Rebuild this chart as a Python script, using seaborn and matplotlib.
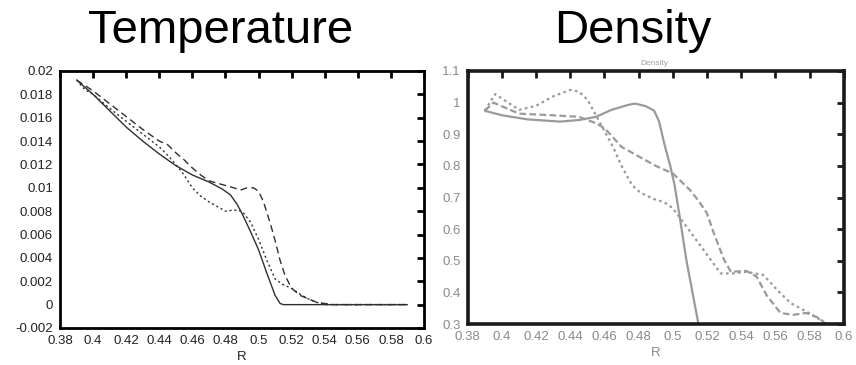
import numpy as np
import pandas as pd
import seaborn as sns
from matplotlib import pyplot as plt


# --- temperature panel (left) ---
T_SOLID_R = [0.390, 0.400, 0.410, 0.420, 0.430, 0.440, 0.450, 0.460, 0.470, 0.478,
             0.483, 0.487, 0.490, 0.495, 0.500, 0.505, 0.510, 0.513, 0.515, 0.590]
T_SOLID = [0.01923, 0.0180, 0.0166, 0.0152, 0.0140, 0.0129, 0.0119, 0.0111, 0.0105, 0.0099,
           0.0094, 0.0086, 0.0078, 0.0063, 0.0047, 0.0027, 0.0008, 0.0001, 0.0, 0.0]

T_DASH_R = [0.390, 0.400, 0.410, 0.420, 0.430, 0.440, 0.445, 0.450, 0.455, 0.460,
            0.465, 0.470, 0.475, 0.480, 0.485, 0.489, 0.493, 0.497, 0.500, 0.503,
            0.507, 0.510, 0.513, 0.516, 0.520, 0.525, 0.530, 0.535, 0.540, 0.545, 0.590]
T_DASH = [0.01923, 0.0183, 0.0172, 0.0161, 0.0150, 0.0140, 0.0137, 0.0130, 0.0124, 0.0117,
          0.0111, 0.0106, 0.0104, 0.0102, 0.0100, 0.0098, 0.0100, 0.0100, 0.0097, 0.0088,
          0.0070, 0.0055, 0.0038, 0.0025, 0.0014, 0.0008, 0.0005, 0.0002, 0.0001, 0.0, 0.0]

T_DOT_R = [0.392, 0.395, 0.400, 0.410, 0.420, 0.430, 0.440, 0.445, 0.450, 0.455,
           0.460, 0.465, 0.470, 0.475, 0.480, 0.485, 0.490, 0.495, 0.500, 0.505,
           0.510, 0.515, 0.520, 0.525, 0.530, 0.535, 0.540, 0.590]
T_DOT = [0.0189, 0.0184, 0.0180, 0.0168, 0.0157, 0.0146, 0.0135, 0.0128, 0.0120, 0.0111,
         0.0100, 0.0093, 0.0088, 0.0084, 0.0080, 0.0081, 0.0080, 0.0071, 0.0056, 0.0038,
         0.0022, 0.0017, 0.0014, 0.0009, 0.0005, 0.0002, 0.0, 0.0]

# --- density panel (right) ---
D_SOLID_R = [0.390, 0.400, 0.415, 0.434, 0.445, 0.455, 0.464, 0.474, 0.478, 0.484,
             0.489, 0.492, 0.495, 0.4985, 0.501, 0.504, 0.508, 0.5115, 0.515]
D_SOLID = [0.974, 0.960, 0.947, 0.940, 0.945, 0.955, 0.977, 0.993, 0.997, 0.989,
           0.975, 0.940, 0.870, 0.800, 0.740, 0.640, 0.500, 0.400, 0.300]

D_DASH_R = [0.390, 0.395, 0.410, 0.430, 0.445, 0.455, 0.460, 0.465, 0.470, 0.480,
            0.490, 0.500, 0.510, 0.515, 0.520, 0.524, 0.530, 0.534, 0.543, 0.549,
            0.555, 0.563, 0.5705, 0.578, 0.586, 0.589]
D_DASH = [0.975, 1.000, 0.965, 0.960, 0.955, 0.935, 0.919, 0.890, 0.860, 0.830,
          0.800, 0.776, 0.724, 0.690, 0.650, 0.587, 0.503, 0.465, 0.468, 0.450,
          0.390, 0.335, 0.329, 0.335, 0.318, 0.302]

D_DOT_R = [0.390, 0.396, 0.410, 0.420, 0.430, 0.440, 0.445, 0.450, 0.455, 0.460,
           0.465, 0.470, 0.476, 0.481, 0.489, 0.495, 0.500, 0.508, 0.518, 0.528,
           0.535, 0.543, 0.553, 0.561, 0.569, 0.578, 0.588]
D_DOT = [0.975, 1.027, 0.977, 0.990, 1.020, 1.040, 1.035, 1.010, 0.960, 0.910,
         0.860, 0.800, 0.740, 0.715, 0.695, 0.685, 0.666, 0.608, 0.534, 0.460,
         0.460, 0.465, 0.455, 0.408, 0.366, 0.340, 0.308]

X_TICKS = [0.38, 0.40, 0.42, 0.44, 0.46, 0.48, 0.50, 0.52, 0.54, 0.56, 0.58, 0.60]
X_LABELS = ["0.38", "0.4", "0.42", "0.44", "0.46", "0.48", "0.5", "0.52", "0.54",
            "0.56", "0.58", "0.6"]
T_YTICKS = [-0.002, 0.0, 0.002, 0.004, 0.006, 0.008, 0.010, 0.012, 0.014, 0.016, 0.018, 0.020]
T_YLABELS = ["-0.002", "0", "0.002", "0.004", "0.006", "0.008", "0.01", "0.012", "0.014",
             "0.016", "0.018", "0.02"]
D_YTICKS = [0.3, 0.4, 0.5, 0.6, 0.7, 0.8, 0.9, 1.0, 1.1]
D_YLABELS = ["0.3", "0.4", "0.5", "0.6", "0.7", "0.8", "0.9", "1", "1.1"]


def style_axes(ax, frame_color, label_color, frame_lw):
    ax.tick_params(direction="in", top=True, right=True, length=5, width=2,
                   color=frame_color, labelcolor=label_color, labelsize=9.5, pad=5)
    for sp in ax.spines.values():
        sp.set_visible(True)
        sp.set_color(frame_color)
        sp.set_linewidth(frame_lw)
    ax.grid(False)


def draw(ax, series, color, lw, styles):
    for (xs, ys), ls in zip(series, styles):
        df = pd.DataFrame({"R": xs, "v": ys})
        sns.lineplot(data=df, x="R", y="v", ax=ax, color=color, linewidth=lw,
                     linestyle=ls, sort=False, estimator=None)


def main():
    sns.set_style("white")
    plt.rcParams["font.family"] = ["Liberation Sans", "DejaVu Sans"]

    fig = plt.figure(figsize=(8.56, 3.65), dpi=100)
    ax_t = fig.add_axes([0.0701, 0.1014, 0.4252, 0.7041])
    ax_d = fig.add_axes([0.5465, 0.1123, 0.4391, 0.6932])

    draw(ax_t, [(T_SOLID_R, T_SOLID), (T_DASH_R, T_DASH), (T_DOT_R, T_DOT)], "#303030", 1.0,
         ["-", (0, (5, 3)), (0, (1.5, 2))])
    ax_t.set_xlim(0.38, 0.60)
    ax_t.set_ylim(-0.002, 0.02)
    ax_t.set_xticks(X_TICKS, X_LABELS)
    ax_t.set_yticks(T_YTICKS, T_YLABELS)
    ax_t.set_xlabel("R", fontsize=9.5, color="#222222", labelpad=3)
    ax_t.set_ylabel("")
    style_axes(ax_t, "black", "#222222", 2.0)

    draw(ax_d, [(D_SOLID_R, D_SOLID), (D_DASH_R, D_DASH), (D_DOT_R, D_DOT)], "#9a9a9a", 1.6,
         ["-", (0, (3, 1.5)), (0, (1.2, 1.5))])
    ax_d.set_xlim(0.38, 0.60)
    ax_d.set_ylim(0.3, 1.1)
    ax_d.set_xticks(X_TICKS, X_LABELS)
    ax_d.set_yticks(D_YTICKS, D_YLABELS)
    ax_d.set_xlabel("R", fontsize=9.5, color="#888888", labelpad=3)
    ax_d.set_ylabel("")
    style_axes(ax_d, "#1a1a1a", "#8a8a8a", 2.6)

    # small original plot title just beneath the big heading
    fig.text(0.765, 0.826, "Density", fontsize=6, color="#a0a0a0", ha="center", va="center")

    fig.text(0.258, 0.915, "Temperature", fontsize=34, color="black", ha="center", va="center")
    fig.text(0.739, 0.915, "Density", fontsize=34, color="black", ha="center", va="center")

    fig.savefig("out.png", dpi=100)


if __name__ == "__main__":
    main()
